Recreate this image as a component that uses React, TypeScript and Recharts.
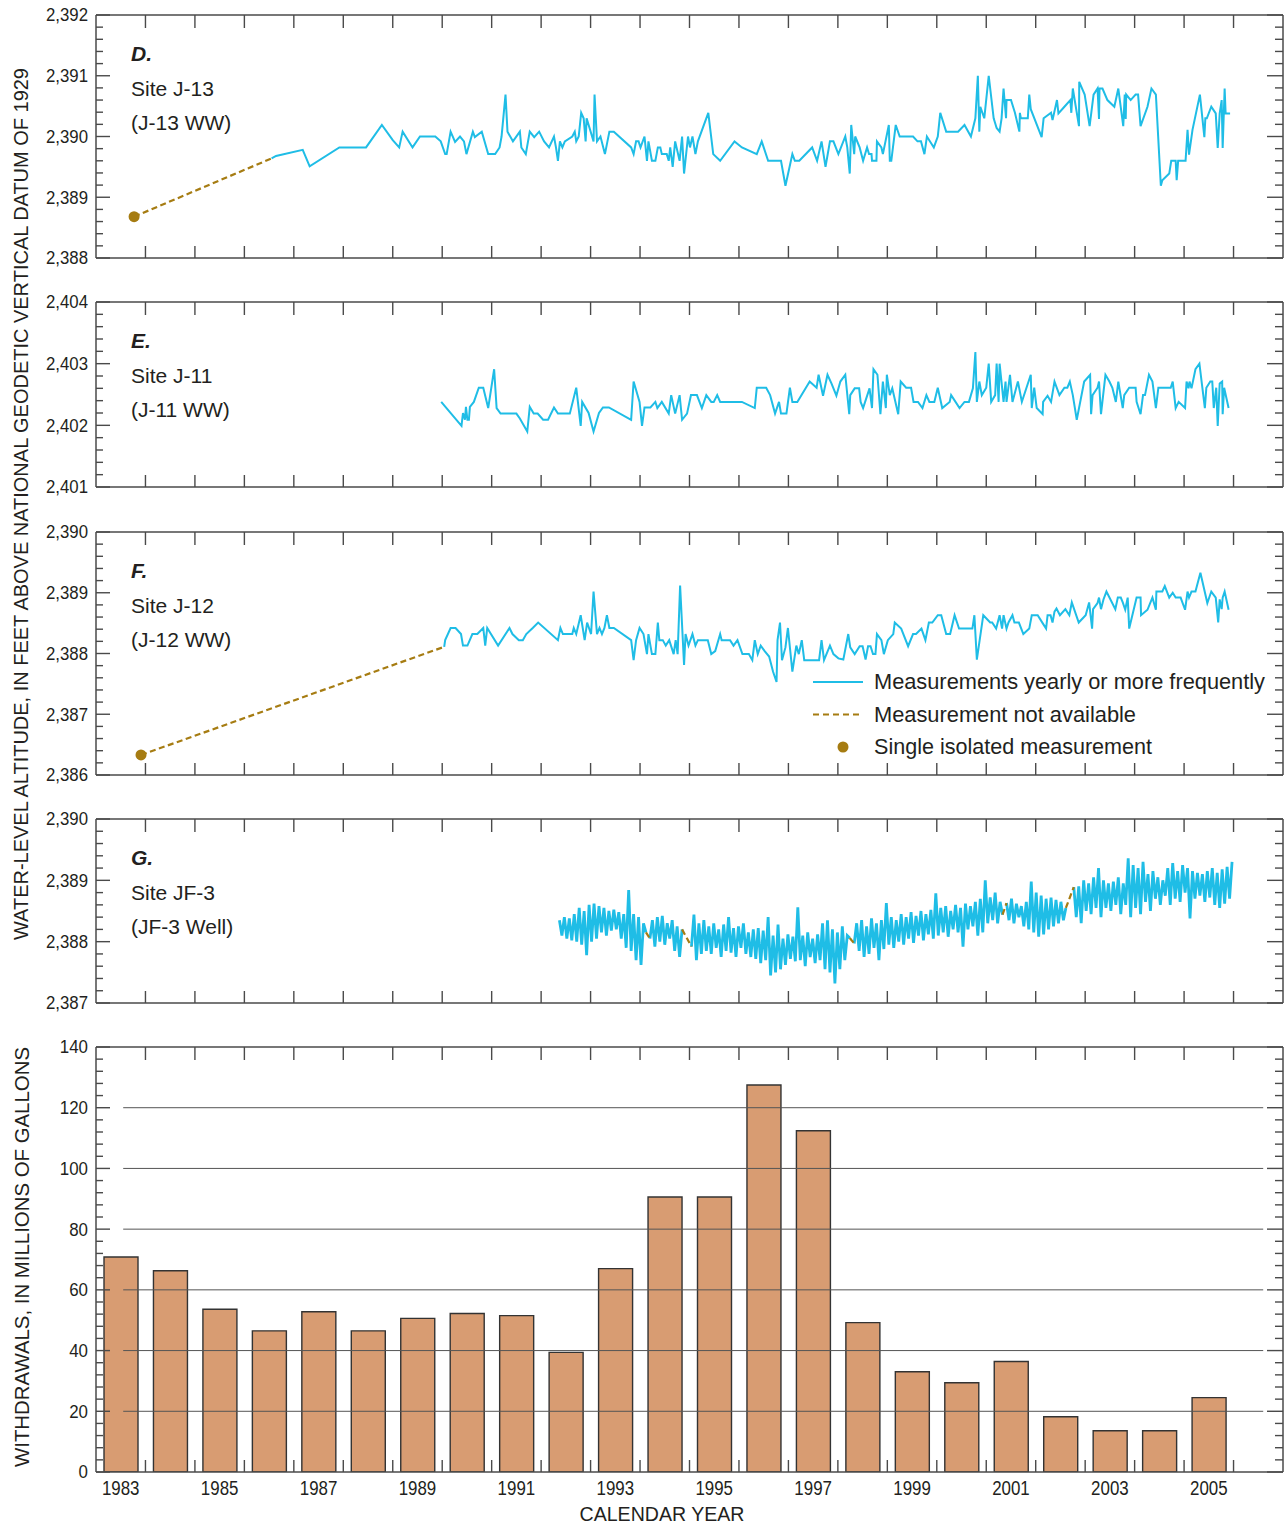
import React from 'react';
import { ComposedChart, Line, Bar, Scatter, XAxis, YAxis, ReferenceLine } from 'recharts';

const FONT = "'Liberation Sans Narrow', 'Arial Narrow', 'Liberation Sans', Arial, sans-serif";
const INK = '#231f20';
const FRAME = '#4a4a4a';
const CYAN = '#1fbde6';
const BROWN = '#a67c12';
const BAR_FILL = '#d89c72';

// withdrawals per calendar year, millions of gallons
const years = [1983, 1984, 1985, 1986, 1987, 1988, 1989, 1990, 1991, 1992, 1993, 1994, 1995, 1996, 1997, 1998, 1999, 2000, 2001, 2002, 2003, 2004, 2005];
const withdrawals = [70.8, 66.3, 53.6, 46.5, 52.8, 46.5, 50.6, 52.2, 51.5, 39.4, 67.0, 90.6, 90.6, 127.5, 112.4, 49.2, 33.0, 29.4, 36.4, 18.2, 13.6, 13.6, 24.5];
const barGrid = [20, 40, 60, 80, 100, 120];

// D. Site J-13 (J-13 WW)  [year, altitude ft]
const j13Isolated = [1983.77, 2388.68];
const j13 = [
  [1986.55, 2389.64], [1986.64, 2389.68], [1987.18, 2389.78], [1987.32, 2389.51], [1987.92, 2389.82], [1988.46, 2389.82],
  [1988.78, 2390.19], [1989.0, 2389.94], [1989.13, 2389.82], [1989.2, 2390.08], [1989.4, 2389.82], [1989.55, 2390.0],
  [1989.86, 2390.0], [1989.97, 2389.92], [1990.06, 2389.71], [1990.09, 2389.71], [1990.17, 2390.08], [1990.26, 2389.91],
  [1990.36, 2390.0], [1990.44, 2389.92], [1990.49, 2389.71], [1990.62, 2390.08], [1990.66, 2389.99], [1990.8, 2390.08],
  [1990.93, 2389.71], [1991.07, 2389.71], [1991.16, 2389.82], [1991.2, 2390.0], [1991.28, 2390.69], [1991.32, 2390.08],
  [1991.43, 2389.92], [1991.57, 2390.08], [1991.6, 2389.82], [1991.69, 2389.71], [1991.77, 2390.08], [1991.86, 2389.99],
  [1991.96, 2390.08], [1992.06, 2389.92], [1992.16, 2389.82], [1992.26, 2390.0], [1992.3, 2389.82], [1992.34, 2389.6],
  [1992.38, 2389.92], [1992.43, 2389.82], [1992.48, 2389.92], [1992.63, 2390.0], [1992.68, 2390.08], [1992.71, 2389.92],
  [1992.76, 2390.0], [1992.81, 2390.39], [1992.86, 2390.3], [1992.9, 2389.92], [1992.92, 2390.3], [1993.06, 2389.92],
  [1993.08, 2390.69], [1993.13, 2389.92], [1993.2, 2390.0], [1993.29, 2389.71], [1993.38, 2390.08], [1993.47, 2390.08],
  [1993.82, 2389.82], [1993.87, 2389.71], [1993.92, 2389.92], [1993.97, 2389.92], [1994.01, 2389.82], [1994.09, 2390.0],
  [1994.14, 2389.6], [1994.17, 2389.92], [1994.24, 2389.6], [1994.31, 2389.6], [1994.36, 2389.82], [1994.41, 2389.82],
  [1994.44, 2389.71], [1994.54, 2389.71], [1994.58, 2389.6], [1994.61, 2389.82], [1994.66, 2389.5], [1994.71, 2389.92],
  [1994.8, 2389.6], [1994.85, 2390.0], [1994.89, 2389.39], [1994.97, 2390.0], [1995.01, 2389.82], [1995.06, 2390.0],
  [1995.12, 2389.71], [1995.17, 2389.92], [1995.38, 2390.39], [1995.48, 2389.71], [1995.62, 2389.6], [1995.91, 2389.92],
  [1996.06, 2389.82], [1996.36, 2389.71], [1996.46, 2389.92], [1996.59, 2389.6], [1996.85, 2389.6], [1996.94, 2389.19],
  [1997.08, 2389.71], [1997.13, 2389.6], [1997.22, 2389.6], [1997.48, 2389.82], [1997.58, 2389.6], [1997.67, 2389.92],
  [1997.75, 2389.5], [1997.84, 2389.92], [1997.91, 2389.92], [1998.01, 2389.71], [1998.15, 2390.0], [1998.19, 2389.82],
  [1998.24, 2389.39], [1998.27, 2390.19], [1998.33, 2389.71], [1998.35, 2390.0], [1998.44, 2389.82], [1998.51, 2389.6],
  [1998.59, 2389.82], [1998.63, 2389.71], [1998.68, 2389.71], [1998.69, 2389.6], [1998.78, 2389.6], [1998.79, 2389.92],
  [1998.88, 2389.82], [1998.91, 2389.71], [1999.03, 2390.19], [1999.05, 2389.6], [1999.08, 2389.6], [1999.17, 2390.19],
  [1999.25, 2390.0], [1999.52, 2390.0], [1999.61, 2389.92], [1999.68, 2389.92], [1999.75, 2389.71], [1999.8, 2390.0],
  [1999.94, 2389.82], [2000.02, 2390.0], [2000.07, 2390.39], [2000.19, 2390.08], [2000.43, 2390.08], [2000.56, 2390.19],
  [2000.69, 2390.0], [2000.78, 2390.3], [2000.83, 2391.0], [2000.86, 2390.08], [2000.88, 2390.49], [2000.96, 2390.3],
  [2001.05, 2391.0], [2001.15, 2390.3], [2001.21, 2390.14], [2001.27, 2390.08], [2001.31, 2390.3], [2001.35, 2390.79],
  [2001.4, 2390.3], [2001.41, 2390.6], [2001.5, 2390.6], [2001.58, 2390.39], [2001.67, 2390.08], [2001.68, 2390.39],
  [2001.7, 2390.3], [2001.84, 2390.3], [2001.87, 2390.69], [2001.9, 2390.45], [2002.12, 2389.99], [2002.16, 2390.3],
  [2002.31, 2390.39], [2002.34, 2390.27], [2002.43, 2390.6], [2002.46, 2390.38], [2002.58, 2390.49], [2002.7, 2390.6],
  [2002.72, 2390.39], [2002.75, 2390.79], [2002.875, 2390.17], [2002.88, 2390.9], [2002.99, 2390.69], [2003.09, 2390.17],
  [2003.17, 2390.69], [2003.25, 2390.79], [2003.28, 2390.29], [2003.29, 2390.79], [2003.35, 2390.79], [2003.45, 2390.6],
  [2003.59, 2390.49], [2003.67, 2390.79], [2003.77, 2390.17], [2003.8, 2390.69], [2003.82, 2390.29], [2003.83, 2390.69],
  [2003.92, 2390.6], [2004.02, 2390.69], [2004.07, 2390.69], [2004.12, 2390.17], [2004.26, 2390.49], [2004.34, 2390.79],
  [2004.43, 2390.69], [2004.53, 2389.19], [2004.56, 2389.28], [2004.7, 2389.39], [2004.74, 2389.6], [2004.83, 2389.6],
  [2004.85, 2389.28], [2004.88, 2389.6], [2005.03, 2389.6], [2005.07, 2390.11], [2005.1, 2389.7], [2005.17, 2390.11],
  [2005.32, 2390.69], [2005.41, 2389.99], [2005.43, 2390.3], [2005.46, 2390.3], [2005.55, 2390.49], [2005.64, 2390.38],
  [2005.68, 2389.81], [2005.72, 2390.38], [2005.76, 2390.6], [2005.78, 2389.81], [2005.82, 2390.79], [2005.84, 2390.38],
  [2005.93, 2390.38],
];

// E. Site J-11 (J-11 WW)
const j11 = [
  [1989.98, 2402.38], [1990.39, 2401.99], [1990.42, 2402.2], [1990.46, 2402.09], [1990.48, 2402.3], [1990.51, 2402.09],
  [1990.54, 2402.09], [1990.56, 2402.3], [1990.64, 2402.38], [1990.74, 2402.61], [1990.83, 2402.61], [1990.93, 2402.28],
  [1991.05, 2402.91], [1991.1, 2402.28], [1991.18, 2402.19], [1991.5, 2402.19], [1991.57, 2402.11], [1991.72, 2401.9],
  [1991.77, 2402.3], [1991.85, 2402.19], [1991.93, 2402.19], [1992.04, 2402.09], [1992.14, 2402.09], [1992.26, 2402.29],
  [1992.34, 2402.19], [1992.58, 2402.19], [1992.71, 2402.61], [1992.8, 2401.99], [1992.83, 2402.38], [1992.96, 2402.2],
  [1993.06, 2401.9], [1993.17, 2402.2], [1993.25, 2402.29], [1993.37, 2402.29], [1993.82, 2402.09], [1993.87, 2402.71],
  [1993.99, 2402.38], [1994.04, 2401.99], [1994.09, 2402.29], [1994.21, 2402.29], [1994.31, 2402.38], [1994.35, 2402.28],
  [1994.44, 2402.38], [1994.58, 2402.19], [1994.63, 2402.49], [1994.71, 2402.19], [1994.8, 2402.49], [1994.85, 2402.09],
  [1994.95, 2402.19], [1995.03, 2402.49], [1995.15, 2402.49], [1995.25, 2402.28], [1995.34, 2402.49], [1995.44, 2402.38],
  [1995.49, 2402.38], [1995.56, 2402.49], [1995.62, 2402.38], [1996.06, 2402.38], [1996.32, 2402.28], [1996.36, 2402.61],
  [1996.55, 2402.61], [1996.63, 2402.49], [1996.73, 2402.19], [1996.81, 2402.38], [1996.85, 2402.19], [1996.96, 2402.19],
  [1997.03, 2402.61], [1997.08, 2402.38], [1997.18, 2402.38], [1997.43, 2402.71], [1997.57, 2402.61], [1997.61, 2402.82],
  [1997.7, 2402.48], [1997.79, 2402.82], [1997.87, 2402.68], [1997.97, 2402.48], [1998.05, 2402.71], [1998.15, 2402.82],
  [1998.23, 2402.18], [1998.25, 2402.49], [1998.34, 2402.6], [1998.43, 2402.6], [1998.46, 2402.38], [1998.51, 2402.28],
  [1998.64, 2402.6], [1998.69, 2402.28], [1998.72, 2402.91], [1998.8, 2402.82], [1998.86, 2402.18], [1998.91, 2402.71],
  [1998.97, 2402.28], [1998.99, 2402.82], [1999.05, 2402.49], [1999.1, 2402.6], [1999.22, 2402.18], [1999.27, 2402.71],
  [1999.38, 2402.61], [1999.48, 2402.61], [1999.53, 2402.38], [1999.62, 2402.38], [1999.71, 2402.28], [1999.79, 2402.49],
  [1999.85, 2402.38], [1999.95, 2402.38], [2000.02, 2402.61], [2000.11, 2402.28], [2000.26, 2402.38], [2000.29, 2402.49],
  [2000.46, 2402.28], [2000.56, 2402.38], [2000.65, 2402.38], [2000.73, 2402.6], [2000.78, 2403.19], [2000.81, 2402.38],
  [2000.86, 2402.71], [2000.91, 2402.49], [2001.0, 2402.61], [2001.05, 2403.0], [2001.1, 2402.38], [2001.18, 2402.49],
  [2001.21, 2403.0], [2001.25, 2402.38], [2001.27, 2403.0], [2001.35, 2402.38], [2001.39, 2402.71], [2001.41, 2402.38],
  [2001.48, 2402.82], [2001.53, 2402.38], [2001.64, 2402.71], [2001.72, 2402.38], [2001.9, 2402.82], [2001.92, 2402.28],
  [2001.97, 2402.61], [2002.02, 2402.28], [2002.14, 2402.18], [2002.15, 2402.38], [2002.24, 2402.48], [2002.31, 2402.38],
  [2002.38, 2402.71], [2002.48, 2402.49], [2002.58, 2402.61], [2002.64, 2402.61], [2002.69, 2402.71], [2002.75, 2402.49],
  [2002.83, 2402.09], [2002.98, 2402.71], [2003.1, 2402.82], [2003.12, 2402.18], [2003.15, 2402.49], [2003.25, 2402.61],
  [2003.28, 2402.71], [2003.32, 2402.18], [2003.41, 2402.82], [2003.49, 2402.71], [2003.55, 2402.61], [2003.62, 2402.38],
  [2003.67, 2402.71], [2003.76, 2402.28], [2003.79, 2402.49], [2003.89, 2402.61], [2004.02, 2402.61], [2004.04, 2402.38],
  [2004.12, 2402.18], [2004.17, 2402.49], [2004.21, 2402.49], [2004.29, 2402.82], [2004.36, 2402.71], [2004.43, 2402.28],
  [2004.48, 2402.61], [2004.73, 2402.61], [2004.77, 2402.71], [2004.83, 2402.28], [2004.89, 2402.38], [2005.02, 2402.28],
  [2005.05, 2402.71], [2005.09, 2402.6], [2005.11, 2402.71], [2005.15, 2402.6], [2005.23, 2402.91], [2005.31, 2403.0],
  [2005.42, 2402.28], [2005.45, 2402.61], [2005.53, 2402.71], [2005.57, 2402.71], [2005.6, 2402.28], [2005.65, 2402.61],
  [2005.68, 2401.99], [2005.72, 2402.68], [2005.77, 2402.71], [2005.78, 2402.18], [2005.81, 2402.61], [2005.9, 2402.28],
];

// F. Site J-12 (J-12 WW)
const j12Isolated = [1983.91, 2386.33];
const j12 = [
  [1990.04, 2388.11], [1990.06, 2388.22], [1990.17, 2388.42], [1990.27, 2388.42], [1990.38, 2388.32], [1990.42, 2388.13],
  [1990.51, 2388.13], [1990.61, 2388.32], [1990.71, 2388.32], [1990.83, 2388.42], [1990.87, 2388.13], [1990.91, 2388.42],
  [1991.13, 2388.13], [1991.36, 2388.42], [1991.42, 2388.32], [1991.55, 2388.22], [1991.63, 2388.22], [1991.7, 2388.32],
  [1991.83, 2388.42], [1991.94, 2388.51], [1992.34, 2388.22], [1992.39, 2388.42], [1992.44, 2388.32], [1992.63, 2388.32],
  [1992.66, 2388.42], [1992.71, 2388.32], [1992.8, 2388.63], [1992.88, 2388.22], [1992.93, 2388.51], [1993.01, 2388.32],
  [1993.06, 2389.02], [1993.13, 2388.32], [1993.18, 2388.42], [1993.23, 2388.32], [1993.28, 2388.42], [1993.33, 2388.63],
  [1993.38, 2388.42], [1993.47, 2388.42], [1993.82, 2388.22], [1993.87, 2387.89], [1993.92, 2388.22], [1993.99, 2388.42],
  [1994.07, 2388.32], [1994.14, 2387.99], [1994.17, 2388.32], [1994.24, 2387.99], [1994.31, 2387.99], [1994.36, 2388.51],
  [1994.39, 2388.22], [1994.46, 2388.22], [1994.52, 2388.13], [1994.59, 2388.22], [1994.68, 2387.99], [1994.72, 2388.22],
  [1994.76, 2387.99], [1994.81, 2389.12], [1994.89, 2387.81], [1994.92, 2388.32], [1994.98, 2388.13], [1995.06, 2388.32],
  [1995.12, 2388.13], [1995.17, 2388.22], [1995.37, 2388.22], [1995.44, 2387.99], [1995.52, 2388.04], [1995.62, 2388.32],
  [1995.65, 2388.22], [1995.82, 2388.22], [1995.89, 2388.13], [1995.97, 2388.22], [1996.07, 2387.99], [1996.2, 2387.99],
  [1996.27, 2387.89], [1996.32, 2388.22], [1996.38, 2387.99], [1996.44, 2388.13], [1996.52, 2388.04], [1996.61, 2387.95],
  [1996.69, 2387.7], [1996.76, 2387.53], [1996.78, 2388.22], [1996.83, 2388.51], [1996.87, 2387.89], [1996.94, 2388.1],
  [1996.99, 2388.42], [1997.08, 2387.7], [1997.16, 2388.13], [1997.21, 2387.99], [1997.27, 2388.22], [1997.32, 2387.89],
  [1997.62, 2387.89], [1997.67, 2388.22], [1997.72, 2387.89], [1997.84, 2388.13], [1997.91, 2387.99], [1998.01, 2387.92],
  [1998.11, 2387.9], [1998.21, 2388.32], [1998.25, 2388.1], [1998.34, 2387.99], [1998.44, 2388.12], [1998.5, 2388.12],
  [1998.56, 2387.9], [1998.61, 2388.12], [1998.66, 2388.12], [1998.71, 2387.99], [1998.76, 2387.99], [1998.79, 2388.32],
  [1998.88, 2388.22], [1998.93, 2387.99], [1999.01, 2388.22], [1999.12, 2388.32], [1999.15, 2388.51], [1999.28, 2388.41],
  [1999.42, 2388.12], [1999.52, 2388.32], [1999.58, 2388.32], [1999.69, 2388.41], [1999.77, 2388.22], [1999.84, 2388.51],
  [1999.91, 2388.51], [2000.02, 2388.63], [2000.09, 2388.63], [2000.19, 2388.32], [2000.27, 2388.32], [2000.36, 2388.63],
  [2000.45, 2388.41], [2000.72, 2388.41], [2000.76, 2388.63], [2000.81, 2387.9], [2000.94, 2388.63], [2001.08, 2388.51],
  [2001.12, 2388.51], [2001.2, 2388.41], [2001.27, 2388.63], [2001.32, 2388.41], [2001.35, 2388.63], [2001.41, 2388.41],
  [2001.45, 2388.51], [2001.53, 2388.63], [2001.57, 2388.51], [2001.66, 2388.51], [2001.75, 2388.32], [2001.87, 2388.41],
  [2001.92, 2388.63], [2002.04, 2388.63], [2002.14, 2388.5], [2002.21, 2388.41], [2002.24, 2388.63], [2002.3, 2388.63],
  [2002.34, 2388.51], [2002.38, 2388.69], [2002.42, 2388.74], [2002.49, 2388.63], [2002.6, 2388.73], [2002.68, 2388.63],
  [2002.73, 2388.84], [2002.87, 2388.51], [2003.01, 2388.63], [2003.08, 2388.84], [2003.14, 2388.41], [2003.16, 2388.73],
  [2003.25, 2388.83], [2003.28, 2388.92], [2003.32, 2388.73], [2003.37, 2388.89], [2003.43, 2389.02], [2003.61, 2388.73],
  [2003.66, 2388.92], [2003.72, 2388.92], [2003.76, 2388.84], [2003.81, 2388.72], [2003.86, 2388.92], [2003.89, 2388.41],
  [2004.04, 2388.92], [2004.12, 2388.92], [2004.13, 2388.63], [2004.26, 2388.72], [2004.36, 2388.92], [2004.43, 2388.72],
  [2004.44, 2389.02], [2004.56, 2389.02], [2004.61, 2389.11], [2004.7, 2388.92], [2004.77, 2389.0], [2004.83, 2388.92],
  [2004.93, 2388.92], [2005.02, 2388.72], [2005.07, 2389.02], [2005.1, 2388.92], [2005.15, 2389.02], [2005.23, 2389.02],
  [2005.33, 2389.33], [2005.47, 2388.83], [2005.55, 2389.02], [2005.64, 2388.92], [2005.69, 2388.51], [2005.72, 2388.89],
  [2005.76, 2388.73], [2005.78, 2388.92], [2005.82, 2389.02], [2005.9, 2388.72],
];

// G. Site JF-3 (JF-3 Well): continuous record, readings every 0.05 yr, split where record is missing
const JF3_STEP = 0.05;
const jf3Starts = [1992.37, 1994.2, 1995.04, 1998.33, 2001.41, 2002.77];
const jf3Seg1 = [2388.35, 2388.1, 2388.4, 2388.05, 2388.38, 2388.02, 2388.45, 2388.0, 2388.55, 2387.95, 2388.5, 2387.78, 2388.6, 2388.0, 2388.62, 2388.05, 2388.58, 2388.15, 2388.55, 2388.1, 2388.5, 2388.18, 2388.52, 2388.2, 2388.48, 2388.05, 2388.45, 2387.9, 2388.84, 2387.85, 2388.45, 2387.7, 2388.4, 2387.62, 2388.3, 2388.15];
const jf3Seg2 = [2388.05, 2388.35, 2387.92, 2388.4, 2388.0, 2388.42, 2387.95, 2388.3, 2388.05, 2388.35, 2387.85, 2388.25, 2387.75, 2388.2];
const jf3Seg3 = [2387.92, 2388.44, 2387.7, 2388.3, 2387.8, 2388.35, 2387.85, 2388.25, 2387.8, 2388.3, 2387.9, 2388.2, 2387.75, 2388.28, 2387.85, 2388.4, 2387.82, 2388.22, 2387.75, 2388.25, 2387.9, 2388.3, 2387.8, 2388.15, 2387.75, 2388.2, 2387.72, 2388.22, 2387.65, 2388.18, 2387.7, 2388.4, 2387.45, 2388.1, 2387.5, 2388.28, 2387.55, 2388.05, 2387.62, 2388.12, 2387.72, 2388.08, 2387.68, 2388.56, 2387.7, 2388.1, 2387.6, 2388.15, 2387.75, 2388.05, 2387.65, 2388.12, 2387.7, 2388.3, 2387.55, 2388.35, 2387.5, 2388.2, 2387.32, 2388.15, 2387.55, 2388.25, 2387.7, 2388.1, 2388.06];
const jf3Seg4 = [2387.97, 2388.3, 2387.85, 2388.35, 2387.75, 2388.25, 2387.8, 2388.38, 2387.9, 2388.3, 2387.7, 2388.35, 2387.88, 2388.63, 2387.95, 2388.4, 2387.9, 2388.35, 2388.0, 2388.45, 2387.95, 2388.4, 2388.05, 2388.48, 2387.98, 2388.42, 2388.1, 2388.5, 2388.02, 2388.45, 2388.12, 2388.52, 2388.05, 2388.79, 2388.1, 2388.55, 2388.15, 2388.58, 2388.08, 2388.5, 2388.2, 2388.6, 2388.15, 2388.55, 2387.92, 2388.62, 2388.2, 2388.58, 2388.25, 2388.65, 2388.1, 2388.7, 2388.15, 2389.0, 2388.3, 2388.72, 2388.35, 2388.8, 2388.3, 2388.65, 2388.44];
const jf3Seg5 = [2388.63, 2388.35, 2388.7, 2388.3, 2388.62, 2388.4, 2388.58, 2388.25, 2388.65, 2388.2, 2388.98, 2388.15, 2388.8, 2388.08, 2388.75, 2388.12, 2388.7, 2388.2, 2388.72, 2388.25, 2388.68, 2388.3, 2388.65, 2388.35, 2388.55];
const jf3Seg6 = [2388.89, 2388.4, 2388.9, 2388.3, 2389.0, 2388.5, 2388.95, 2388.45, 2389.05, 2388.55, 2389.2, 2388.4, 2389.0, 2388.55, 2388.95, 2388.5, 2388.98, 2388.6, 2389.05, 2388.45, 2388.95, 2388.6, 2389.36, 2388.4, 2389.25, 2388.55, 2389.2, 2388.45, 2389.3, 2388.65, 2389.1, 2388.5, 2389.15, 2388.7, 2389.05, 2388.6, 2389.0, 2388.75, 2389.2, 2388.6, 2389.28, 2388.7, 2389.15, 2388.65, 2389.25, 2388.8, 2389.2, 2388.38, 2389.15, 2388.7, 2389.12, 2388.75, 2389.1, 2388.65, 2389.15, 2388.72, 2389.2, 2388.6, 2389.12, 2388.55, 2389.18, 2388.62, 2389.22, 2388.7, 2389.3];
const jf3Values = [jf3Seg1, jf3Seg2, jf3Seg3, jf3Seg4, jf3Seg5, jf3Seg6];

const W = 1288;
const PL = 96;
const PR = 1283;
const PAD = 14;

const range = (lo: number, hi: number, step: number) => {
  const out: number[] = [];
  const n = Math.round((hi - lo) / step);
  for (let i = 0; i <= n; i++) out.push(+(lo + i * step).toFixed(4));
  return out;
};
const yearTicks = range(1984, 2006, 1);
const isMajor = (v: number, every: number) => Math.abs(v / every - Math.round(v / every)) < 1e-6;
const fmtThousands = (v: number) => Math.round(v).toLocaleString('en-US');
const toPts = (a: number[][]) => a.map(([t, v]) => ({ t, v }));
// condensed figure widths of the original typeface
const numWidth = (s: string) => s.replace(/[^0-9]/g, '').length * 9.4 + s.replace(/[^,]/g, '').length * 4.4;

const jf3Segments = jf3Values.map((vals, k) => vals.map((v, i) => [+(jf3Starts[k] + i * JF3_STEP).toFixed(3), v]));
const jf3Gaps = jf3Segments.slice(0, -1).map((seg, k) => [seg[seg.length - 1], jf3Segments[k + 1][0]]);

const AXIS = { stroke: FRAME, strokeWidth: 1.5 };

const leftTick = (every: number) => (p: any) => {
  const v = p.payload.value;
  const major = isMajor(v, every);
  const s = fmtThousands(v);
  return (
    <g>
      <line x1={p.x} x2={p.x + (major ? 14 : 7)} y1={p.y} y2={p.y} stroke={FRAME} strokeWidth={1.4} />
      {major && (
        <text x={p.x - 8} y={p.y} dy="0.36em" textAnchor="end" fontSize={18} fill={INK} fontFamily={FONT}
          textLength={numWidth(s)} lengthAdjust="spacingAndGlyphs">
          {s}
        </text>
      )}
    </g>
  );
};
const rightTick = (every: number) => (p: any) => {
  const major = isMajor(p.payload.value, every);
  return <line x1={p.x} x2={p.x - (major ? 16 : 8)} y1={p.y} y2={p.y} stroke={FRAME} strokeWidth={1.4} />;
};
const topTick = (p: any) => <line x1={p.x} x2={p.x} y1={p.y} y2={p.y + 13} stroke={FRAME} strokeWidth={1.4} />;
const bottomTick = (p: any) => <line x1={p.x} x2={p.x} y1={p.y} y2={p.y - 12} stroke={FRAME} strokeWidth={1.4} />;
const barBottomTick = (p: any) => {
  const v = p.payload.value;
  if (Number.isInteger(v)) return bottomTick(p);
  const s = String(Math.floor(v));
  return (
    <text x={p.x} y={p.y + 23} textAnchor="middle" fontSize={20} fill={INK} fontFamily={FONT}
      textLength={numWidth(s)} lengthAdjust="spacingAndGlyphs">
      {s}
    </text>
  );
};

function xAxes(bottom: any = bottomTick, bottomTicks: number[] = yearTicks) {
  return [
    <XAxis key="xb" xAxisId="b" orientation="bottom" type="number" dataKey="t" domain={[1983, 2007]} allowDataOverflow
      ticks={bottomTicks} interval={0} height={1} tickSize={0} tickMargin={0} tickLine={false} axisLine={AXIS} tick={bottom} />,
    <XAxis key="xt" xAxisId="t" orientation="top" type="number" dataKey="t" domain={[1983, 2007]} allowDataOverflow
      ticks={yearTicks} interval={0} height={1} tickSize={0} tickMargin={0} tickLine={false} axisLine={AXIS} tick={topTick} />,
  ];
}
function yAxes(domain: number[], ticks: number[], every: number) {
  return [
    <YAxis key="yl" yAxisId="l" orientation="left" type="number" dataKey="v" domain={domain} allowDataOverflow
      ticks={ticks} interval={0} width={1} tickSize={0} tickMargin={0} tickLine={false} axisLine={AXIS} tick={leftTick(every)} />,
    <YAxis key="yr" yAxisId="r" orientation="right" type="number" dataKey="v" domain={domain} allowDataOverflow
      ticks={ticks} interval={0} width={1} tickSize={0} tickMargin={0} tickLine={false} axisLine={AXIS} tick={rightTick(every)} />,
  ];
}

interface PanelProps {
  top: number;
  height: number;
  domain: number[];
  lines: number[][][];
  dashes: number[][][];
  dot?: number[];
  lineWidth?: number;
}

function LinePanel({ top, height, domain, lines, dashes, dot, lineWidth = 2 }: PanelProps) {
  const H = height + 2 * PAD;
  const ticks = range(domain[0], domain[1], 0.2);
  return (
    <div style={{ position: 'absolute', left: 0, top: top - PAD, width: W, height: H }}>
      <ComposedChart width={W} height={H} margin={{ top: PAD - 1, bottom: PAD - 1, left: PL - 1, right: W - PR - 1 }}>
        {xAxes()}
        {yAxes(domain, ticks, 1)}
        {lines.map((d, i) => (
          <Line key={'s' + i} xAxisId="b" yAxisId="l" data={toPts(d)} dataKey="v" type="linear" stroke={CYAN}
            strokeWidth={lineWidth} dot={false} isAnimationActive={false} />
        ))}
        {dashes.map((d, i) => (
          <Line key={'d' + i} xAxisId="b" yAxisId="l" data={toPts(d)} dataKey="v" type="linear" stroke={BROWN}
            strokeWidth={2.2} strokeDasharray="6 3.5" dot={false} isAnimationActive={false} />
        ))}
        {dot && (
          <Scatter xAxisId="b" yAxisId="l" data={[{ t: dot[0], v: dot[1] }]} dataKey="v" isAnimationActive={false}
            shape={(p: any) => <circle cx={p.cx} cy={p.cy} r={5.5} fill={BROWN} />} />
        )}
      </ComposedChart>
    </div>
  );
}

function BarPanel() {
  const top = 1047;
  const height = 425;
  const BOTTOM = 40;
  const H = height + PAD + BOTTOM;
  const rows = years.map((y, i) => ({ t: y + 0.5, v: withdrawals[i] }));
  const labelTicks = [...yearTicks, ...years.filter((y) => y % 2 === 1).map((y) => y + 0.5)].sort((a, b) => a - b);
  return (
    <div style={{ position: 'absolute', left: 0, top: top - PAD, width: W, height: H }}>
      <ComposedChart width={W} height={H} data={rows} margin={{ top: PAD - 1, bottom: BOTTOM - 1, left: PL - 1, right: W - PR - 1 }}>
        {xAxes(barBottomTick, labelTicks)}
        {yAxes([0, 140], range(0, 140, 4), 20)}
        {barGrid.map((g) => (
          <ReferenceLine key={g} xAxisId="t" yAxisId="l" segment={[{ x: 1983.55, y: g }, { x: 2006.6, y: g }]}
            stroke="#555" strokeWidth={1} />
        ))}
        <Bar xAxisId="t" yAxisId="l" dataKey="v" barSize={34} fill={BAR_FILL} stroke="#333" strokeWidth={1.4}
          isAnimationActive={false} />
      </ComposedChart>
    </div>
  );
}

const panelText = [
  { top: 15, letter: 'D.', site: 'Site J-13', well: '(J-13 WW)' },
  { top: 302, letter: 'E.', site: 'Site J-11', well: '(J-11 WW)' },
  { top: 532, letter: 'F.', site: 'Site J-12', well: '(J-12 WW)' },
  { top: 819, letter: 'G.', site: 'Site JF-3', well: '(JF-3 Well)' },
];

const legendItems = [
  { kind: 'line', label: 'Measurements yearly or more frequently', len: 391 },
  { kind: 'dash', label: 'Measurement not available', len: 262 },
  { kind: 'dot', label: 'Single isolated measurement', len: 278 },
];

function Overlay() {
  return (
    <svg width={W} height={1527} style={{ position: 'absolute', left: 0, top: 0, pointerEvents: 'none' }} fontFamily={FONT} fill={INK}>
      {panelText.map((p) => (
        <g key={p.letter}>
          <text x={131} y={p.top + 46} fontSize={21} fontWeight="bold" fontStyle="italic">{p.letter}</text>
          <text x={131} y={p.top + 81} fontSize={21}>{p.site}</text>
          <text x={131} y={p.top + 115} fontSize={21}>{p.well}</text>
        </g>
      ))}
      {legendItems.map((it, i) => {
        const y = 682 + i * 32.5;
        return (
          <g key={it.kind}>
            {it.kind === 'line' && <line x1={813} x2={863} y1={y} y2={y} stroke={CYAN} strokeWidth={2} />}
            {it.kind === 'dash' && <line x1={813} x2={863} y1={y} y2={y} stroke={BROWN} strokeWidth={2} strokeDasharray="6 4" />}
            {it.kind === 'dot' && <circle cx={843} cy={y} r={5.5} fill={BROWN} />}
            <text x={874} y={y + 7} fontSize={22} textLength={it.len} lengthAdjust="spacingAndGlyphs">{it.label}</text>
          </g>
        );
      })}
      <text transform="translate(28,504) rotate(-90)" textAnchor="middle" fontSize={21} textLength={872} lengthAdjust="spacingAndGlyphs">
        WATER-LEVEL ALTITUDE, IN FEET ABOVE NATIONAL GEODETIC VERTICAL DATUM OF 1929
      </text>
      <text transform="translate(29,1257) rotate(-90)" textAnchor="middle" fontSize={21} textLength={420} lengthAdjust="spacingAndGlyphs">
        WITHDRAWALS, IN MILLIONS OF GALLONS
      </text>
      <text x={662} y={1521} textAnchor="middle" fontSize={21} textLength={165} lengthAdjust="spacingAndGlyphs">
        CALENDAR YEAR
      </text>
    </svg>
  );
}

export default function App() {
  return (
    <div style={{ position: 'absolute', left: 0, top: 0, width: W, height: 1527, background: '#fff', fontFamily: FONT }}>
      <LinePanel top={15} height={243} domain={[2388, 2392]} lines={[j13]} dashes={[[j13Isolated, j13[0]]]} dot={j13Isolated} />
      <LinePanel top={302} height={185} domain={[2401, 2404]} lines={[j11]} dashes={[]} />
      <LinePanel top={532} height={243} domain={[2386, 2390]} lines={[j12]} dashes={[[j12Isolated, j12[0]]]} dot={j12Isolated} />
      <LinePanel top={819} height={184} domain={[2387, 2390]} lines={jf3Segments} dashes={jf3Gaps} lineWidth={2.8} />
      <BarPanel />
      <Overlay />
    </div>
  );
}
